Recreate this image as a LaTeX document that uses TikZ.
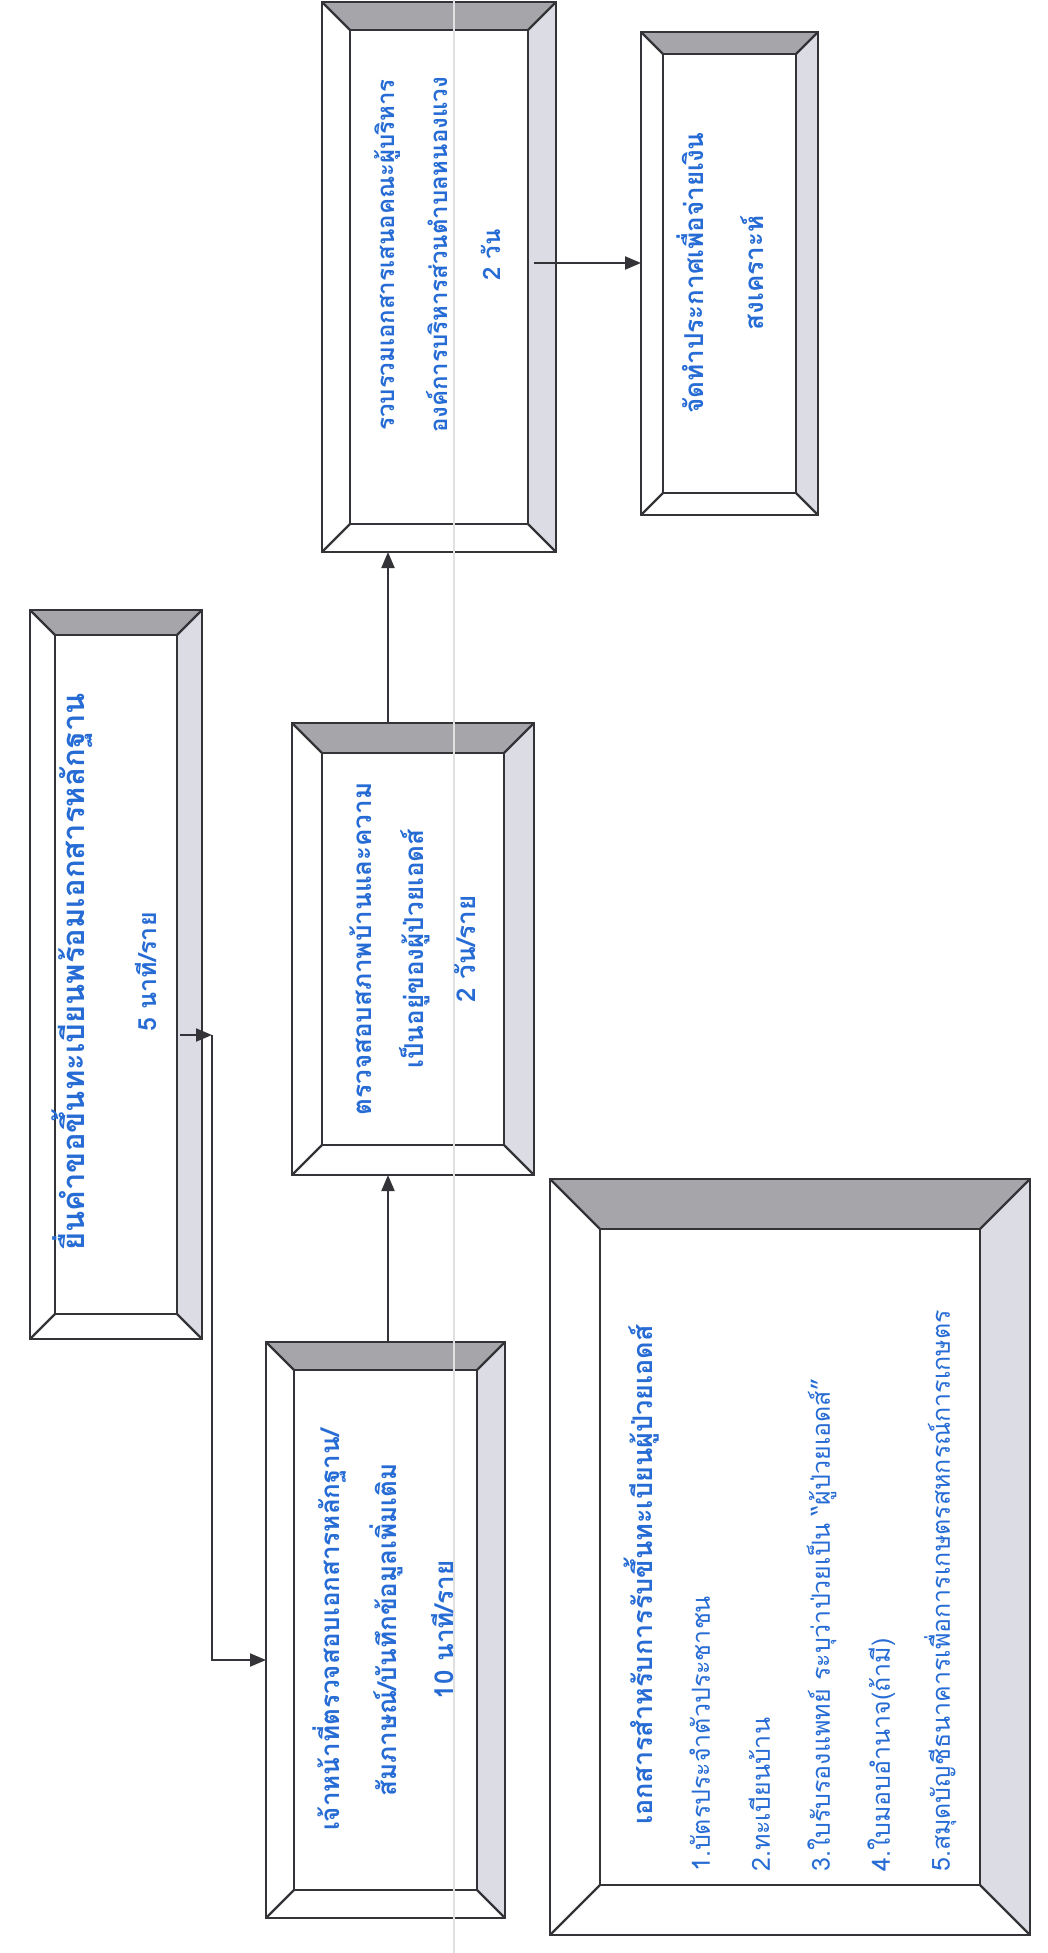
\documentclass[tikz,border=0pt]{standalone}
\usepackage{fontspec}
\newfontfamily\thai[Script=Thai]{Loma}
\usepackage{tikz}
\usetikzlibrary{positioning}
\usetikzlibrary{calc}
\usetikzlibrary{arrows.meta}

\definecolor{textblue}{RGB}{38,108,212}
\definecolor{bevgray}{RGB}{166,166,170}
\definecolor{bevlight}{RGB}{220,220,228}
\definecolor{framegray}{RGB}{52,52,56}

\tikzset{
  bevnode/.style={inner sep=0pt, outer sep=0pt},
  frame/.style={draw=framegray, line width=2.4pt, line join=miter},
  flowtext/.style={rotate=90, text=textblue, align=center, inner sep=0pt},
  flowarrow/.style={draw=framegray, line width=2pt, -{Triangle[length=16pt,width=13pt]}},
}

% bevelled box drawn round a named node, #2 = bevel size
\newcommand{\bevelbox}[2]{%
  \fill[bevgray] (#1.north west) -- (#1.north east) -- ([shift={(-#2,-#2)}]#1.north east) -- ([shift={(#2,-#2)}]#1.north west) -- cycle;
  \fill[bevlight] (#1.north east) -- (#1.south east) -- ([shift={(-#2,#2)}]#1.south east) -- ([shift={(-#2,-#2)}]#1.north east) -- cycle;
  \draw[frame] (#1.north west) rectangle (#1.south east);
  \draw[frame] ([shift={(#2,-#2)}]#1.north west) rectangle ([shift={(-#2,#2)}]#1.south east);
  \draw[frame] (#1.north west) -- ++(#2,-#2) (#1.north east) -- ++(-#2,-#2)
    (#1.south west) -- ++(#2,#2) (#1.south east) -- ++(-#2,#2);
}

\begin{document}
\begin{tikzpicture}[x=1pt, y=-1pt]
  \fill[white] (0,0) rectangle (1047,1953);
  \useasboundingbox (0,0) rectangle (1047,1953);

  \node[bevnode, minimum width=172pt, minimum height=729pt] (submit) at (116,974.5) {};
  \node[bevnode, minimum width=239pt, minimum height=576pt] (check) at (385.5,1630) {};
  \node[bevnode, minimum width=242pt, minimum height=452pt] (visit) at (413,949) {};
  \node[bevnode, minimum width=234pt, minimum height=550pt] (collect) at (439,277) {};
  \node[bevnode, minimum width=177pt, minimum height=483pt] (announce) at (729.5,273.5) {};
  \node[bevnode, minimum width=480pt, minimum height=756pt] (docs) at (790,1557) {};

  \bevelbox{submit}{25pt}
  \bevelbox{check}{28pt}
  \bevelbox{visit}{30pt}
  \bevelbox{collect}{28pt}
  \bevelbox{announce}{22pt}
  \bevelbox{docs}{50pt}

  % scan line
  \draw[black!12, line width=2pt] (454,0) -- (454,1953);

  % texts
  \node[flowtext, font=\thai\bfseries\fontsize{31}{40}\selectfont] (submit-t) at (72,972) {ยื่นคำขอขึ้นทะเบียนพร้อมเอกสารหลักฐาน};
  \node[flowtext, font=\thai\bfseries\fontsize{25}{30}\selectfont] (submit-time) at (146,972) {5 นาที/ราย};
  \node[flowtext, font=\thai\bfseries\fontsize{26}{57}\selectfont] (check-t) at (383,1630)
    {เจ้าหน้าที่ตรวจสอบเอกสารหลักฐาน/\\สัมภาษณ์/บันทึกข้อมูลเพิ่มเติม\\10 นาที/ราย};
  \node[flowtext, font=\thai\bfseries\fontsize{26}{52}\selectfont] (visit-t) at (413,949)
    {ตรวจสอบสภาพบ้านและความ\\เป็นอยู่ของผู้ป่วยเอดส์\\2 วัน/ราย};
  \node[flowtext, font=\thai\bfseries\fontsize{24}{53}\selectfont] (collect-t) at (438,255)
    {รวบรวมเอกสารเสนอคณะผู้บริหาร\\องค์การบริหารส่วนตำบลหนองแวง\\2 วัน};
  \node[flowtext, font=\thai\bfseries\fontsize{26}{60}\selectfont] (announce-t) at (720,273)
    {จัดทำประกาศเพื่อจ่ายเงิน\\สงเคราะห์};
  \node[flowtext, font=\thai\bfseries\fontsize{27}{57}\selectfont] (docs-t) at (642,1575)
    {เอกสารสำหรับการรับขึ้นทะเบียนผู้ป่วยเอดส์};
  \node[flowtext, anchor=west, align=left, font=\thai\fontsize{25}{60}\selectfont] (docs-list) at (823,1872)
    {1.บัตรประจำตัวประชาชน\\2.ทะเบียนบ้าน\\3.ใบรับรองแพทย์ ระบุว่าป่วยเป็น “ผู้ป่วยเอดส์”\\4.ใบมอบอำนาจ(ถ้ามี)\\5.สมุดบัญชีธนาคารเพื่อการเกษตรสหกรณ์การเกษตร};

  % connectors
  \coordinate (turn) at (212,1035);
  \coordinate (entry) at (0,1660);
  \coordinate (upline) at (388,0);
  \coordinate (midline) at (0,263);
  \draw[flowarrow] ([xshift=-22pt]submit.east |- turn) -- (turn);
  \draw[flowarrow] (turn) |- (check.west |- entry);
  \draw[flowarrow] (check.north -| upline) -- (visit.south -| upline);
  \draw[flowarrow] (visit.north -| upline) -- (collect.south -| upline);
  \draw[flowarrow] ([xshift=-22pt]collect.east |- midline) -- (announce.west |- midline);
\end{tikzpicture}
\end{document}
